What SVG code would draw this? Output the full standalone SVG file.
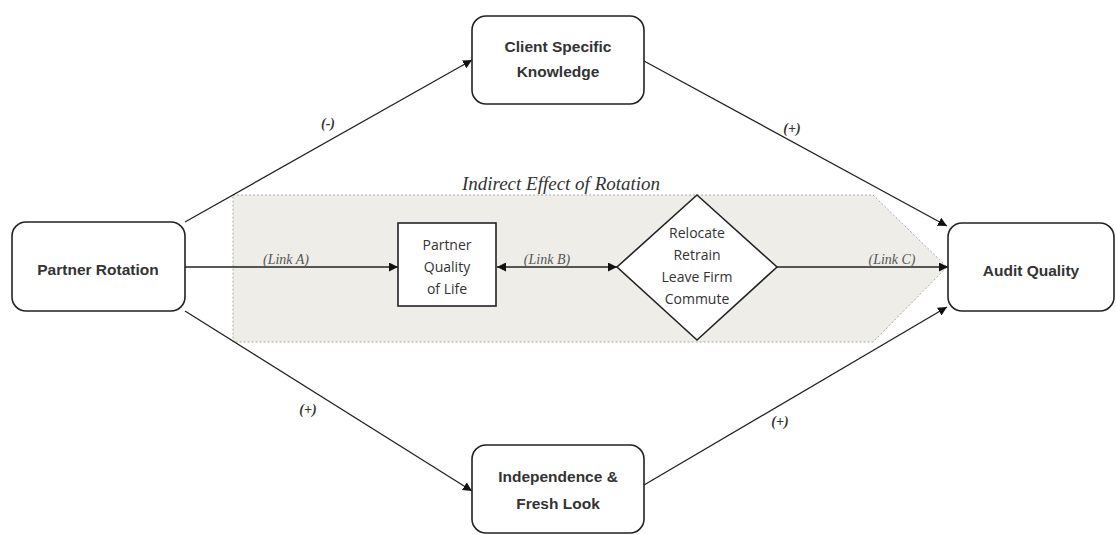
<svg xmlns="http://www.w3.org/2000/svg" width="1116" height="535" viewBox="0 0 1116 535">
<defs>
<marker id="arr" viewBox="0 0 10 10" refX="10" refY="5" markerWidth="9" markerHeight="9" markerUnits="userSpaceOnUse" orient="auto-start-reverse">
<path d="M0,0 L10,5 L0,10 z" fill="#111"/>
</marker>
<style>
.node{fill:#fff;stroke:#222;stroke-width:1.6}
.bt{font-family:"Liberation Sans",Arial,sans-serif;font-weight:bold;font-size:15.5px;fill:#333;text-anchor:middle}
.rt{font-family:"Open Sans","Liberation Sans",sans-serif;font-size:14px;fill:#333;text-anchor:middle}
.ln{fill:none;stroke:#222;stroke-width:1.3}
.lk{font-family:"Liberation Serif","Times New Roman",serif;font-style:italic;font-size:14px;fill:#555;text-anchor:middle}
.sg{font-family:"Liberation Serif","Times New Roman",serif;font-style:italic;font-weight:bold;font-size:14px;fill:#333;text-anchor:middle}
</style>
</defs>
<rect width="1116" height="535" fill="#fff"/>
<g id="band">
<path d="M233,195 L873,195 L947,267 L873,342 L233,342 Z" fill="#eeede7" stroke="#aaa" stroke-width="1" stroke-dasharray="2,2"/>
<text x="561" y="190" font-family="'Liberation Serif','Times New Roman',serif" font-style="italic" font-size="19" fill="#333" text-anchor="middle">Indirect Effect of Rotation</text>
</g>
<g id="connectors">
<line class="ln" x1="185" y1="222" x2="472" y2="60" marker-end="url(#arr)"/>
<line class="ln" x1="644" y1="61" x2="947" y2="226" marker-end="url(#arr)"/>
<line class="ln" x1="185" y1="311" x2="472" y2="491" marker-end="url(#arr)"/>
<line class="ln" x1="644" y1="485" x2="947" y2="307" marker-end="url(#arr)"/>
<line class="ln" x1="185" y1="267" x2="398" y2="267" marker-end="url(#arr)"/>
<line class="ln" x1="497" y1="267" x2="617" y2="267" marker-start="url(#arr)" marker-end="url(#arr)"/>
<line class="ln" x1="777" y1="267" x2="948" y2="267" marker-end="url(#arr)"/>
<text class="sg" x="328" y="128">(-)</text>
<text class="sg" x="792" y="133">(+)</text>
<text class="sg" x="308" y="414">(+)</text>
<text class="sg" x="780" y="426">(+)</text>
<text class="lk" x="286" y="264">(Link A)</text>
<text class="lk" x="547" y="264">(Link B)</text>
<text class="lk" x="892" y="264">(Link C)</text>
</g>
<g id="partner-rotation">
<rect class="node" x="12" y="222" width="173" height="89" rx="14"/>
<text class="bt" x="98" y="275">Partner Rotation</text>
</g>
<g id="client-knowledge">
<rect class="node" x="472" y="16" width="172" height="88" rx="14"/>
<text class="bt" x="558" y="52">Client Specific</text>
<text class="bt" x="558" y="77">Knowledge</text>
</g>
<g id="independence">
<rect class="node" x="472" y="445" width="172" height="88" rx="14"/>
<text class="bt" x="558" y="482">Independence &amp;</text>
<text class="bt" x="558" y="509">Fresh Look</text>
</g>
<g id="audit-quality">
<rect class="node" x="948" y="223" width="166" height="88" rx="14"/>
<text class="bt" x="1031" y="276">Audit Quality</text>
</g>
<g id="quality-of-life">
<rect class="node" x="398" y="223" width="98" height="83"/>
<text class="rt" x="447" y="250">Partner</text>
<text class="rt" x="447" y="272">Quality</text>
<text class="rt" x="447" y="294">of Life</text>
</g>
<g id="relocate">
<path class="node" d="M697,195 L777,267 L697,340 L617,267 Z" stroke-width="1.3"/>
<text class="rt" x="697" y="238">Relocate</text>
<text class="rt" x="697" y="260">Retrain</text>
<text class="rt" x="697" y="282">Leave Firm</text>
<text class="rt" x="697" y="304">Commute</text>
</g>
</svg>
